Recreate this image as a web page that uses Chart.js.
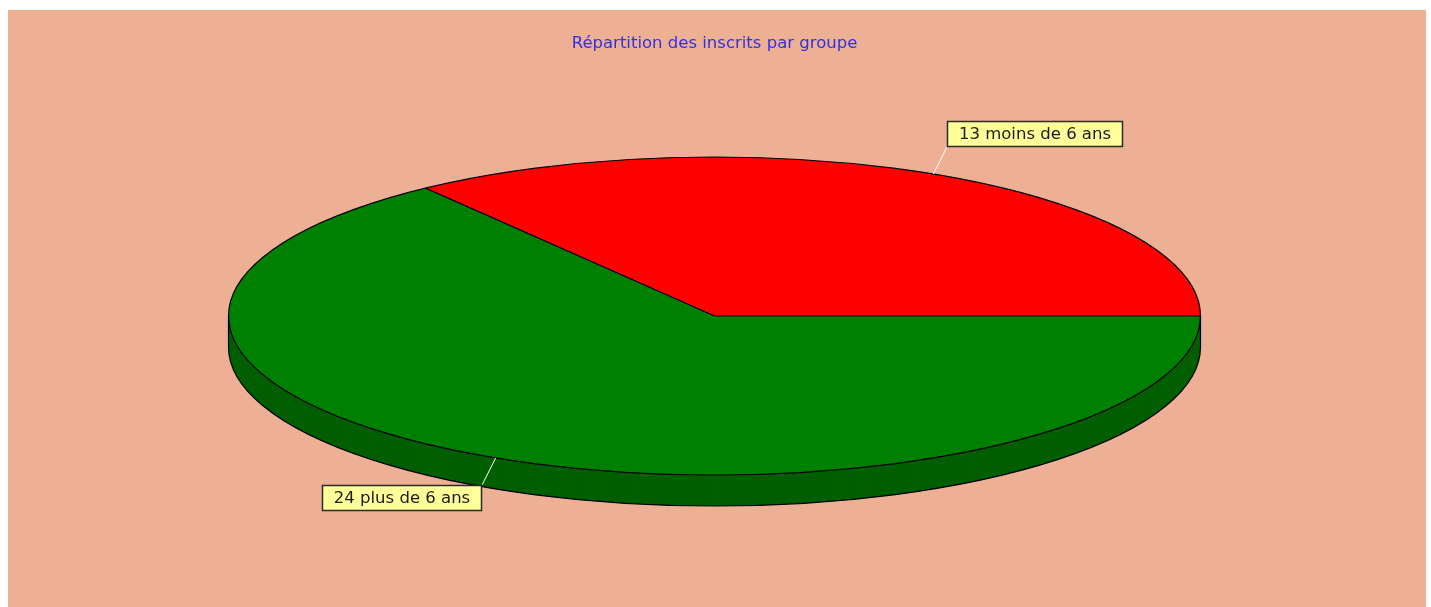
<!DOCTYPE html>
<html><head><meta charset="utf-8">
<script src="https://cdn.jsdelivr.net/npm/chart.js@4.4.1/dist/chart.umd.min.js"></script>
<style>
html,body{margin:0;padding:0;background:#fff;width:1431px;height:607px;overflow:hidden}
#wrap{position:absolute;left:8px;top:10px;width:1418px;height:597px;background:#EDB094}
canvas{display:block}
</style></head><body>
<div id="wrap"><canvas id="c" width="1418" height="597"></canvas></div>
<script>
const titleText = 'Répartition des inscrits par groupe';
const categories = ['moins de 6 ans', 'plus de 6 ans'];
const values = [13, 24];
const topColors = ['#FF0000', '#008000'];
const sideColors = ['#A80000', '#005F00'];

const RX = 486, RY = 159, DEPTH = 31, LEADER = 30;
const total = values.reduce((a, b) => a + b, 0);

const pie3d = {
  id: 'pie3d',
  beforeDatasetsDraw(chart) {
    const ctx = chart.ctx;
    const arcs = chart.getDatasetMeta(0).data;
    const a0 = arcs[0];
    const cx = a0.x, cy = a0.y, R = a0.outerRadius;
    const sx = RX / R, sy = RY / R;
    for (let d = DEPTH; d >= 1; d--) {
      arcs.forEach((a, i) => {
        ctx.save();
        ctx.translate(cx, cy + d);
        ctx.scale(sx, sy);
        ctx.beginPath();
        ctx.moveTo(0, 0);
        ctx.arc(0, 0, R, a.startAngle, a.endAngle);
        ctx.closePath();
        ctx.fillStyle = sideColors[i];
        ctx.fill();
        ctx.restore();
      });
    }
    ctx.save();
    ctx.translate(cx, cy);
    ctx.scale(sx, sy);
    ctx.translate(-cx, -cy);
  },
  afterDatasetsDraw(chart) {
    const ctx = chart.ctx;
    ctx.restore();
    const arcs = chart.getDatasetMeta(0).data;
    const cx = arcs[0].x, cy = arcs[0].y;
    ctx.save();
    ctx.strokeStyle = '#000';
    ctx.lineWidth = 1.2;
    ctx.beginPath();
    ctx.ellipse(cx, cy + DEPTH, RX, RY, 0, 0, Math.PI);
    ctx.stroke();
    ctx.beginPath();
    ctx.moveTo(cx - RX, cy); ctx.lineTo(cx - RX, cy + DEPTH);
    ctx.moveTo(cx + RX, cy); ctx.lineTo(cx + RX, cy + DEPTH);
    ctx.stroke();
    ctx.beginPath();
    ctx.ellipse(cx, cy, RX, RY, 0, 0, 2 * Math.PI);
    ctx.stroke();
    arcs.forEach(a => {
      ctx.beginPath();
      ctx.moveTo(cx, cy);
      ctx.lineTo(cx + RX * Math.cos(a.startAngle), cy + RY * Math.sin(a.startAngle));
      ctx.stroke();
    });
    // labels
    ctx.font = '16.5px "DejaVu Sans"';
    arcs.forEach((a, i) => {
      const m = (a.startAngle + a.endAngle) / 2;
      const c = Math.cos(m), s = Math.sin(m);
      const px = cx + RX * c, py = cy + RY * s;
      const ex = px + LEADER * c, ey = py + LEADER * s;
      ctx.strokeStyle = '#FFFFFF';
      ctx.lineWidth = 1;
      ctx.beginPath(); ctx.moveTo(px, py); ctx.lineTo(ex, ey); ctx.stroke();
      const txt = values[i] + ' ' + categories[i];
      const w = Math.round(ctx.measureText(txt).width + 24), h = 26;
      const bx = Math.round(c >= 0 ? ex : ex - w);
      const by = Math.round(s >= 0 ? ey : ey - h);
      ctx.fillStyle = '#FFFF99';
      ctx.fillRect(bx, by, w, h);
      ctx.strokeStyle = '#2a2a2a';
      ctx.lineWidth = 1.5;
      ctx.strokeRect(bx + 0.5, by + 0.5, w - 1, h - 1);
      ctx.fillStyle = '#1a1a1a';
      ctx.textAlign = 'center';
      ctx.textBaseline = 'middle';
      ctx.fillText(txt, bx + w / 2, by + h / 2 + 1);
    });
    ctx.restore();
  }
};

new Chart(document.getElementById('c'), {
  type: 'pie',
  data: {
    labels: categories,
    datasets: [{
      data: values,
      backgroundColor: topColors,
      borderWidth: 0,
      clip: false
    }]
  },
  options: {
    responsive: false,
    devicePixelRatio: 1,
    animation: false,
    rotation: 90 - 360 * values[0] / total,
    layout: { padding: { top: 0, left: 0, right: 5, bottom: 38.8 } },
    plugins: {
      legend: { display: false },
      tooltip: { enabled: false },
      title: {
        display: true,
        text: titleText,
        color: '#3030E0',
        font: { family: 'DejaVu Sans', size: 16.5, weight: 'normal' },
        padding: { top: 24, bottom: 10 }
      }
    }
  },
  plugins: [pie3d]
});
</script>
</body></html>
